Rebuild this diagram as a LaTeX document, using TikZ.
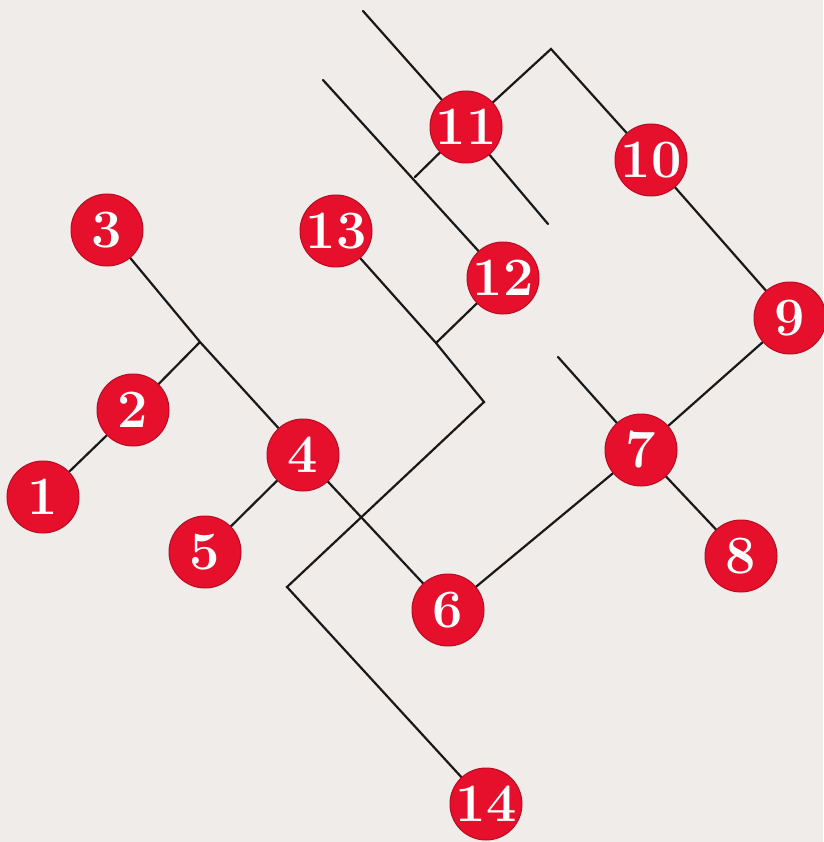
\documentclass[tikz,border=0pt]{standalone}
\usepackage{fontspec}
\usetikzlibrary{backgrounds}
\definecolor{paper}{HTML}{EFECEA}
\definecolor{nred}{HTML}{E60F2C}
\definecolor{ndark}{HTML}{9A0A1C}
\tikzset{
  nd/.style={circle, fill=nred, draw=ndark!60!nred, line width=1pt, minimum size=72pt, inner sep=0pt,
    text=white, font=\fontsize{54}{54}\selectfont\bfseries},
  conn/.style={line width=2.2pt, draw=black!90, line cap=round}
}
\begin{document}
\begin{tikzpicture}[x=1pt,y=-1pt]
\useasboundingbox (0,0) rectangle (823,842);
\node[nd] (n1) at (43,497) {1};
\node[nd] (n2) at (133,410) {2};
\node[nd] (n3) at (107,230) {3};
\node[nd] (n4) at (303,455) {4};
\node[nd] (n5) at (205,552) {5};
\node[nd] (n6) at (448,610) {6};
\node[nd] (n7) at (641,450) {7};
\node[nd] (n8) at (741,556) {8};
\node[nd] (n9) at (790,318) {9};
\node[nd] (n10) at (651,160) {10};
\node[nd] (n11) at (466,127) {11};
\node[nd] (n12) at (503,278) {12};
\node[nd] (n13) at (336,231) {13};
\node[nd] (n14) at (486,804) {14};
\coordinate (j32) at (200,342);
\coordinate (j1213) at (436,343);
\coordinate (corner) at (484,402);
\coordinate (c14) at (287,587);
\coordinate (top11) at (363,11);
\coordinate (end11) at (548,224);
\coordinate (peak) at (551,49);
\coordinate (end10) at (415,177);
\coordinate (top12) at (323,80);
\coordinate (top7) at (558,357);
\begin{scope}[on background layer]
\fill[paper] (0,0) rectangle (823,842);
\draw[conn] (n3.center) -- (j32) -- (n4.center);
\draw[conn] (j32) -- (n2.center) -- (n1.center);
\draw[conn] (n4.center) -- (n5.center);
\draw[conn] (n4.center) -- (n6.center) -- (n7.center) -- (n9.center) -- (n10.center) -- (peak) -- (n11.center) -- (end10);
\draw[conn] (top7) -- (n7.center) -- (n8.center);
\draw[conn] (top11) -- (n11.center) -- (end11);
\draw[conn] (top12) -- (n12.center) -- (j1213);
\draw[conn] (n13.center) -- (j1213) -- (corner) -- (c14) -- (n14.center);
\end{scope}
\end{tikzpicture}
\end{document}
